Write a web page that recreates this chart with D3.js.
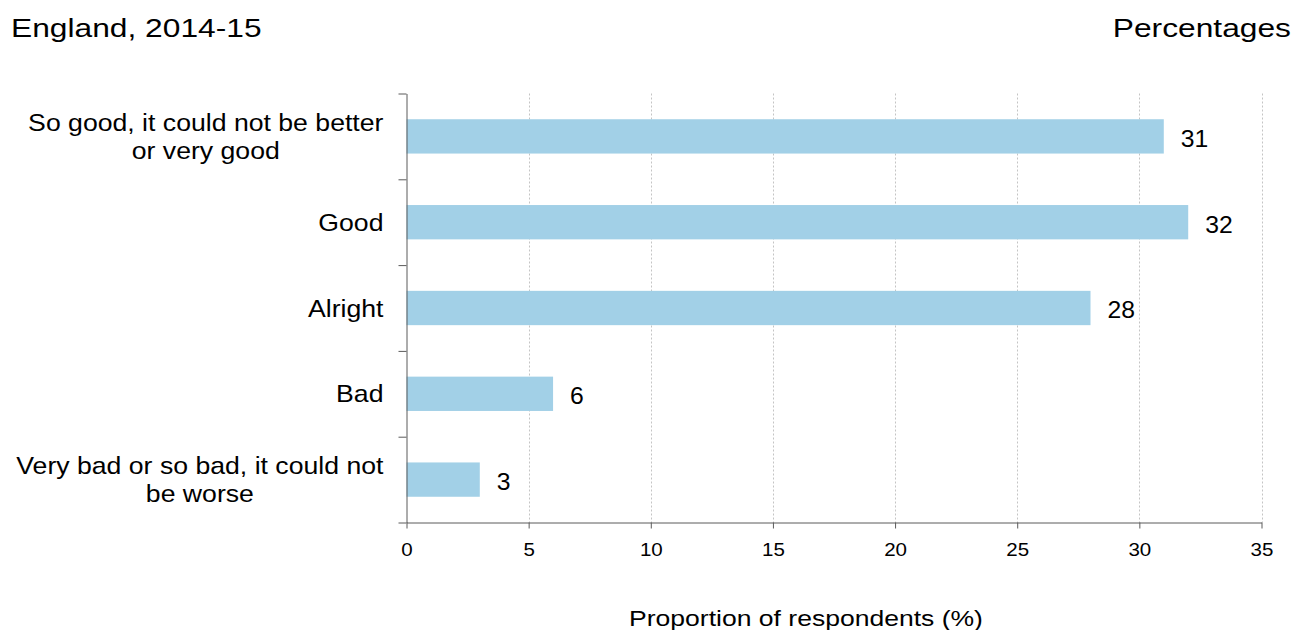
<!DOCTYPE html>
<html>
<head>
<meta charset="utf-8">
<script src="https://cdn.jsdelivr.net/npm/d3@7"></script>
<style>
  html, body { margin: 0; padding: 0; background: #fff; }
  svg { display: block; font-family: "Liberation Sans", Arial, sans-serif; }
</style>
</head>
<body>
<svg id="chart" width="1296" height="630"></svg>
<script>
const titleText = "England, 2014-15";
const unitText = "Percentages";
const axisTitle = "Proportion of respondents (%)";
const categories = [
  ["So good, it could not be better", "or very good"],
  ["Good"],
  ["Alright"],
  ["Bad"],
  ["Very bad or so bad, it could not", "be worse"]
];
const values = [31, 32, 28, 6, 3];
const xTicks = [0, 5, 10, 15, 20, 25, 30, 35];

(function () {
const svg = d3.select("#chart");
const pLeft = 406.5, pRight = 1261.5, pTop = 93.5, pBottom = 522.5;

const x = d3.scaleLinear().domain([0, 35]).range([pLeft, pRight]);
const y = d3.scaleBand().domain(d3.range(categories.length)).range([pTop, pBottom])
  .paddingInner(0.6).paddingOuter(0.3);
const yEdge = d3.scaleLinear().domain([0, categories.length]).range([pTop, pBottom]);

const axisColor = "#5a5a5a";

// Title & unit
svg.append("text").attr("transform", "translate(11,36.5) scale(1.24,1)")
  .attr("font-size", 25.6).attr("fill", "#000").text(titleText);
svg.append("text").attr("transform", "translate(1291,36.5) scale(1.24,1)")
  .attr("text-anchor", "end").attr("font-size", 25.6).attr("fill", "#000").text(unitText);

// Gridlines
svg.append("g").selectAll("line").data(xTicks.filter(d => d > 0)).join("line")
  .attr("x1", d => Math.round(x(d)) + 0.5).attr("x2", d => Math.round(x(d)) + 0.5)
  .attr("y1", pTop).attr("y2", pBottom)
  .attr("stroke", "#c4c4c4").attr("stroke-width", 1).attr("stroke-dasharray", "2,2");

// Bars
svg.append("g").selectAll("rect").data(values).join("rect")
  .attr("x", x(0)).attr("y", (d, i) => y(i))
  .attr("width", d => x(d) - x(0)).attr("height", y.bandwidth())
  .attr("fill", "#a2d0e7");

// Value labels
svg.append("g").selectAll("text").data(values).join("text")
  .attr("transform", (d, i) => `translate(${x(d) + 17},${y(i) + y.bandwidth() / 2 + 10.3}) scale(1.03,1)`)
  .attr("font-size", 24).attr("fill", "#000").text(d => d);

// Left axis (band boundaries)
const gy = svg.append("g").attr("transform", `translate(${pLeft},0)`)
  .call(d3.axisLeft(yEdge).ticks(categories.length).tickFormat("").tickSize(8).tickSizeOuter(0));
gy.select(".domain").attr("stroke", axisColor);
gy.selectAll(".tick line").attr("stroke", axisColor);

// Bottom axis
const gx = svg.append("g").attr("transform", `translate(0,${pBottom})`)
  .call(d3.axisBottom(x).tickValues(xTicks).tickSize(6).tickSizeOuter(0).tickPadding(14));
gx.select(".domain").attr("stroke", axisColor);
gx.selectAll(".tick line").attr("stroke", axisColor);
gx.selectAll(".tick text").attr("font-size", 18.5).attr("fill", "#000")
  .attr("font-family", "'Liberation Sans', Arial, sans-serif")
  .attr("transform", "scale(1.11,1)");

// Category labels
const labelRight = 383.5;
const lineH = 28;
const catG = svg.append("g");
categories.forEach((lines, i) => {
  const cy = y(i) + y.bandwidth() / 2;
  const g = catG.append("g");
  const texts = lines.map((ln) => g.append("text")
    .attr("font-size", 24).attr("fill", "#000").attr("text-anchor", "middle").text(ln));
  const sx = 1.11;
  const widths = texts.map(t => t.node().getComputedTextLength() * sx);
  const maxW = d3.max(widths);
  const cx = labelRight - maxW / 2;
  const n = lines.length;
  texts.forEach((t, k) => {
    const baseline = cy + 8.6 + (k - (n - 1) / 2) * lineH;
    t.attr("transform", `translate(${cx},${baseline}) scale(${sx},1)`);
  });
});

// Axis title
svg.append("text").attr("transform", "translate(806,626) scale(1.19,1)")
  .attr("text-anchor", "middle").attr("font-size", 22.3).attr("fill", "#000").text(axisTitle);
})();
</script>
</body>
</html>
